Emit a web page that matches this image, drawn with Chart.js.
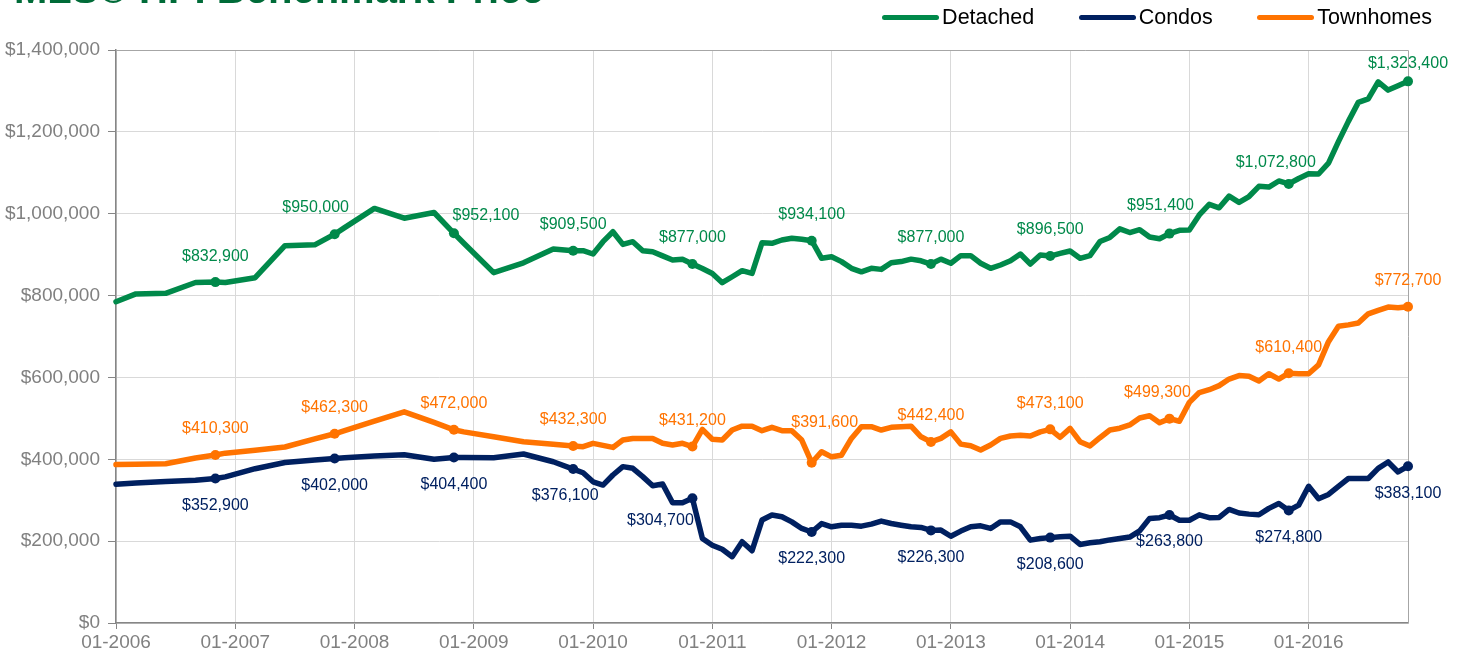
<!DOCTYPE html>
<html>
<head>
<meta charset="utf-8">
<script src="https://cdn.jsdelivr.net/npm/chart.js@4.4.1/dist/chart.umd.min.js"></script>
<style>
  body { margin: 0; background: #fff; }
  #wrap { position: relative; width: 1464px; height: 658px; overflow: hidden; }
  #title {
    position: absolute; left: 14px; top: -31px; margin: 0;
    font: bold 40px "Liberation Sans", Arial, sans-serif; line-height: 40px;
    color: #006b38; white-space: nowrap;
  }
  #legend {
    position: absolute; right: 32px; top: 5px; display: flex; align-items: center;
    font: 21.5px "Liberation Sans", Arial, sans-serif; color: #000;
  }
  #legend .item { display: flex; align-items: center; margin-left: 44.5px; }
  #legend .item:first-child { margin-left: 0; }
  #legend .swatch { width: 57px; height: 5px; border-radius: 3px; margin-right: 3px; }
</style>
</head>
<body>
<div id="wrap">
  <h1 id="title">MLS® HPI Benchmark Price</h1>
  <div id="legend"></div>
  <canvas id="chart" width="1464" height="658"></canvas>
</div>
<script>
// months counted from 01-2006 (quarterly early on, monthly from 2010)
var months = [0, 2, 5, 8, 10, 11, 14, 17, 20, 22, 23, 26, 29, 32, 34, 35, 38, 41, 44, 46, 47,
  48, 49, 50, 51, 52, 53, 54, 55, 56, 57, 58, 59, 60, 61, 62, 63, 64, 65, 66, 67, 68, 69,
  70, 71, 72, 73, 74, 75, 76, 77, 78, 79, 80, 81, 82, 83, 84, 85, 86, 87, 88, 89, 90, 91,
  92, 93, 94, 95, 96, 97, 98, 99, 100, 101, 102, 103, 104, 105, 106, 107, 108, 109, 110,
  111, 112, 113, 114, 115, 116, 117, 118, 119, 120, 121, 122, 123, 124, 125, 126, 127,
  128, 129, 130];

var detached = [785000, 804000, 805500, 832000, 832900, 832000, 843700, 921800, 924000, 950000, 966000, 1013000, 989000, 1003000, 952100, 928000, 856000, 880000, 913800, 909500, 909600,
  901600, 931700, 956000, 925000, 931700, 909600, 907000, 897000, 887000, 888600, 877000, 866000, 854000, 831500, 846000, 860800, 854000, 929000, 927700, 935800, 940000, 937500,
  934100, 891000, 895000, 883000, 866600, 858000, 866600, 864000, 880000, 883000, 889000, 885000, 877000, 889000, 879000, 897500, 897500, 879000, 866600, 874700, 885000, 901600,
  877000, 899000, 896500, 903000, 909000, 891000, 897500, 932000, 942000, 963000, 954000, 961000, 943000, 939000, 951400, 959500, 960400, 997000, 1023000,
  1014500, 1043000, 1027600, 1042000, 1067000, 1065000, 1080000, 1072800, 1086000, 1097400, 1097000, 1123500, 1176000, 1225600, 1272000, 1280500, 1322000,
  1302000, 1312800, 1323400];

var condos = [339000, 342000, 346000, 349000, 352900, 357000, 377000, 392000, 398000, 402000, 404000, 408000, 411000, 400000, 404400, 404300, 404000, 413000, 394000, 376100, 367000,
  345000, 337000, 361600, 382000, 378000, 357600, 335500, 339600, 294000, 294000, 304700, 206600, 190000, 180000, 162000, 198600, 176600, 251500, 264000, 259600, 247000, 231000,
  222300, 243000, 235000, 239000, 239000, 236600, 241600, 249000, 243000, 239000, 235000, 233600, 226300, 227000, 212000, 224600, 235000, 237500, 231000, 247000, 247000, 235000,
  202500, 206600, 208600, 210700, 212000, 192000, 196000, 198500, 203000, 206600, 210000, 225000, 255600, 257400, 263800, 251000, 251000, 264400, 257400,
  258000, 277500, 268700, 266000, 264400, 280000, 292000, 274800, 288000, 334000, 303600, 314000, 334000, 353000, 353000, 353000, 377800,
  393500, 369000, 383100];

var townhomes = [387000, 388000, 389000, 403000, 410300, 415000, 422000, 430000, 450000, 462300, 470000, 493000, 516000, 490000, 472000, 467000, 455000, 443000, 436600, 432300, 430800,
  439000, 434000, 429000, 447000, 451000, 451000, 451000, 439000, 435000, 439000, 431200, 473000, 449000, 447000, 471500, 481000, 481000, 470000, 478000, 470000, 470000, 447000,
  391600, 418500, 406000, 410000, 451000, 479600, 479600, 471500, 478000, 479600, 481000, 455000, 442400, 451000, 467000, 437000, 433000, 422700, 435000, 451000, 457000, 459000,
  457000, 467000, 473100, 453700, 475600, 443000, 432500, 452700, 471500, 476000, 484000, 501000, 506500, 489400, 499300, 493000, 539000, 563000, 570000,
  580000, 596000, 604600, 603000, 591500, 609000, 596000, 610400, 609000, 609000, 630700, 687400, 725000, 728400, 733000, 755400, 764000,
  772000, 770000, 772700];

var seriesNames = ["Detached", "Condos", "Townhomes"];
var seriesColors = ["#00894a", "#002060", "#ff7300"];
var yTicks = [0, 200000, 400000, 600000, 800000, 1000000, 1200000, 1400000];

// nudges for a few value labels, per series and month: [dx, dy]
var labelNudge = {
  "0-22": [-19, -27], "0-34": [32, -18], "0-106": [-9, -28], "0-118": [-13, -21], "0-130": [0, -18],
  "2-70": [13, -40], "2-106": [-12, -26],
  "1-46": [-8, 27], "1-58": [-32, 22]
};

function money(v) {
  return "$" + v.toLocaleString("en-US");
}
// the labelled points are every November
function isLabelled(m) {
  return m % 12 === 10;
}

function toPoints(values) {
  return months.map(function (m, i) { return { x: m, y: values[i] }; });
}

var allValues = [detached, condos, townhomes];
var datasets = allValues.map(function (vals, k) {
  return {
    label: seriesNames[k],
    data: toPoints(vals),
    borderColor: seriesColors[k],
    backgroundColor: seriesColors[k],
    borderWidth: 5.5,
    borderJoinStyle: "round",
    borderCapStyle: "round",
    tension: 0,
    clip: false,
    pointRadius: function (c) { return isLabelled(months[c.dataIndex]) ? 5 : 0; },
    pointBorderWidth: 0,
    pointHoverRadius: 0,
    labelAbove: k !== 1
  };
});

// value labels next to the November points
var pointLabels = {
  id: "pointLabels",
  afterDatasetsDraw: function (chart) {
    var ctx = chart.ctx;
    ctx.save();
    ctx.font = "16px 'Liberation Sans', Arial, sans-serif";
    ctx.textAlign = "center";
    ctx.textBaseline = "middle";
    chart.data.datasets.forEach(function (ds, k) {
      var meta = chart.getDatasetMeta(k);
      ctx.fillStyle = ds.borderColor;
      meta.data.forEach(function (pt, i) {
        if (!isLabelled(months[i])) return;
        var n = labelNudge[k + "-" + months[i]] || [0, ds.labelAbove ? -26 : 27];
        ctx.fillText(money(ds.data[i].y), pt.x + n[0], pt.y + n[1]);
      });
    });
    ctx.restore();
  }
};

// grey frame on top and right of the plot
var frame = {
  id: "frame",
  beforeDatasetsDraw: function (chart) {
    var a = chart.chartArea, ctx = chart.ctx;
    ctx.save();
    ctx.strokeStyle = "#a6a6a6";
    ctx.lineWidth = 1;
    ctx.beginPath();
    ctx.moveTo(a.left, a.top + 0.5);
    ctx.lineTo(a.right + 0.5, a.top + 0.5);
    ctx.lineTo(a.right + 0.5, a.bottom);
    ctx.stroke();
    ctx.restore();
  }
};

var chart = new Chart(document.getElementById("chart"), {
  type: "line",
  data: { datasets: datasets },
  plugins: [frame, pointLabels],
  options: {
    responsive: false,
    animation: false,
    layout: { padding: { top: 50, right: 0, bottom: 0, left: 0 } },
    plugins: {
      legend: { display: false },
      tooltip: { enabled: false }
    },
    scales: {
      x: {
        type: "linear",
        min: 0,
        max: 130,
        afterFit: function (s) { s.height = 35; s.paddingRight = 56; },
        grid: { color: "#d9d9d9", tickLength: 6, tickColor: "#868686" },
        border: { color: "#868686", width: 1.5 },
        ticks: {
          stepSize: 12,
          includeBounds: false,
          maxRotation: 0,
          padding: 2,
          color: "#808080",
          font: { family: "'Liberation Sans', Arial, sans-serif", size: 19 },
          callback: function (v) { return "01-" + (2006 + v / 12); }
        }
      },
      y: {
        min: yTicks[0],
        max: yTicks[yTicks.length - 1],
        afterFit: function (s) { s.width = 116; },
        afterBuildTicks: function (s) { s.ticks = yTicks.map(function (v) { return { value: v }; }); },
        grid: { color: "#d9d9d9", tickLength: 8, tickColor: "#868686" },
        border: { color: "#868686", width: 1.5 },
        ticks: {
          padding: 8,
          color: "#808080",
          font: { family: "'Liberation Sans', Arial, sans-serif", size: 19 },
          callback: function (v) { return money(v); }
        }
      }
    }
  }
});

// legend built from the chart's datasets
var legend = document.getElementById("legend");
chart.data.datasets.forEach(function (ds) {
  var item = document.createElement("div");
  item.className = "item";
  item.innerHTML = '<span class="swatch" style="background:' + ds.borderColor + '"></span>' + ds.label;
  legend.appendChild(item);
});
</script>
</body>
</html>
